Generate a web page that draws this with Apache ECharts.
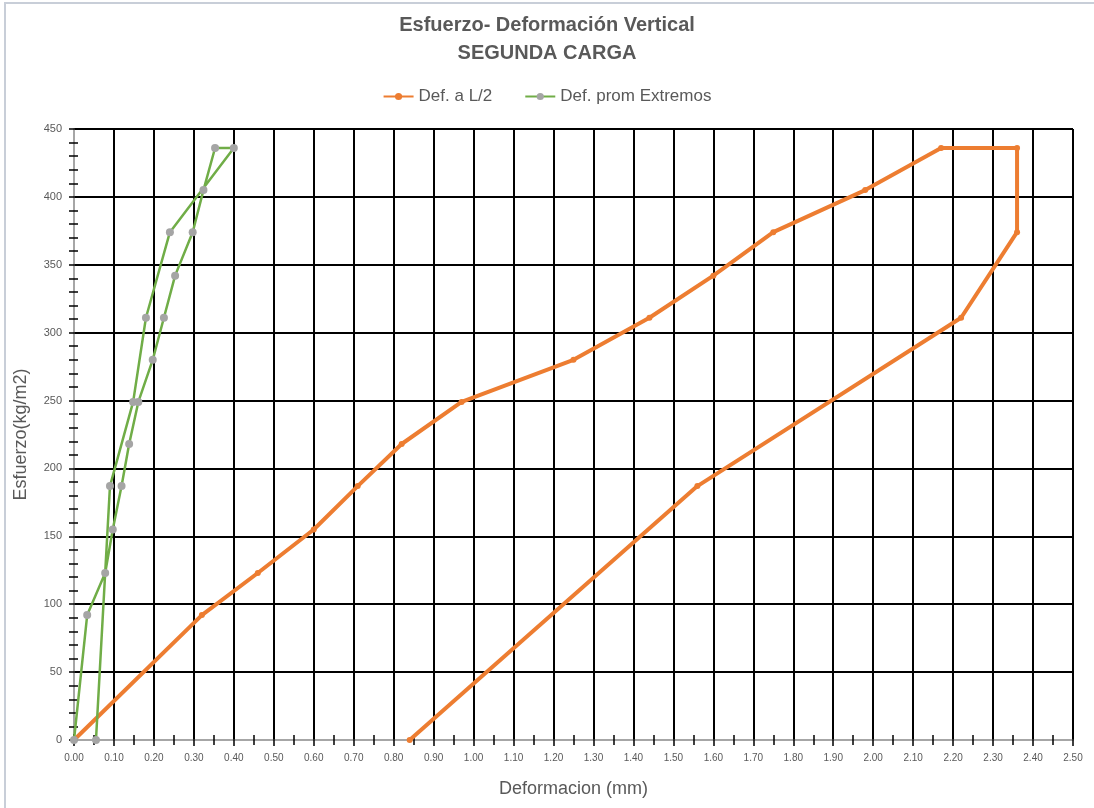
<!DOCTYPE html>
<html>
<head>
<meta charset="utf-8">
<script src="https://cdn.jsdelivr.net/npm/echarts@6/dist/echarts.min.js"></script>
<style>
  html, body { margin: 0; padding: 0; background: #ffffff; }
  #chart { width: 1094px; height: 808px; }
</style>
</head>
<body>
<div id="chart"></div>
<script>
// Stress steps (kg/m2) and deflections (mm) for the second load cycle
const midDef    = [0, 0.32, 0.46, 0.60, 0.71, 0.82, 0.97, 1.25, 1.44, 1.60, 1.75, 1.98, 2.17, 2.36, 2.36, 2.22, 1.56, 0.84];
const midStress = [0, 92, 123, 155, 187, 218, 249, 280, 311, 342, 374, 405, 436, 436, 374, 311, 187, 0];

const endDef    = [0, 0.033, 0.078, 0.097, 0.119, 0.138, 0.161, 0.197, 0.225, 0.253, 0.297, 0.324, 0.353, 0.40, 0.24, 0.18, 0.148, 0.090, 0.055];
const endStress = [0, 92, 123, 155, 187, 218, 249, 280, 311, 342, 374, 405, 436, 436, 374, 311, 249, 187, 0];

const seriesNames = ['Def. a L/2', 'Def. prom Extremos'];
const titleLines = ['Esfuerzo- Deformación Vertical', 'SEGUNDA CARGA'];
const xTitle = 'Deformacion (mm)';
const yTitle = 'Esfuerzo(kg/m2)';

const pairs = (xs, ys) => xs.map((x, i) => [x, ys[i]]);

const textGrey = '#595959';
const axisGrey = '#a6a6a6';
const font = 'Liberation Sans, Arial, sans-serif';
const narrowFont = 'Liberation Sans Narrow, Liberation Sans, Arial, sans-serif';

const chart = echarts.init(document.getElementById('chart'), null, { renderer: 'canvas' });

// Shared axis ranges; a second copy of each axis carries inward ticks so ticks cross the axis line
const xBase = { type: 'value', min: 0, max: 2.5, interval: 0.1, position: 'bottom' };
const yBase = { type: 'value', min: 0, max: 450, interval: 50, position: 'left' };
const tickLine = { color: '#000', width: 1.5 };

chart.setOption({
  backgroundColor: '#ffffff',
  animation: false,
  graphic: [{
    type: 'rect',
    shape: { x: 5, y: 3, width: 1200, height: 900 },
    style: { fill: 'none', stroke: '#c8ced8', lineWidth: 2 },
    silent: true
  }],
  title: {
    text: titleLines.join('\n'),
    left: 'center',
    top: 6,
    textStyle: {
      fontFamily: font,
      fontSize: 20,
      fontWeight: 'bold',
      color: textGrey,
      lineHeight: 28
    }
  },
  legend: {
    top: 83,
    left: 'center',
    itemWidth: 30,
    itemHeight: 9,
    itemGap: 32,
    textStyle: { fontFamily: font, fontSize: 17, color: textGrey },
    data: seriesNames
  },
  grid: { left: 74, right: 21, top: 129, bottom: 68, containLabel: false },
  xAxis: [
    Object.assign({}, xBase, {
      name: xTitle,
      nameLocation: 'middle',
      nameGap: 40,
      nameTextStyle: { fontFamily: font, fontSize: 18, color: textGrey },
      axisLine: { show: true, onZero: false, lineStyle: { color: axisGrey, width: 2 } },
      axisTick: { show: true, inside: false, length: 6, lineStyle: tickLine },
      minorTick: { show: true, splitNumber: 2, length: 5, lineStyle: tickLine },
      axisLabel: {
        margin: 13,
        fontFamily: narrowFont,
        fontSize: 10,
        color: textGrey,
        formatter: v => v.toFixed(2)
      },
      splitLine: { show: true, lineStyle: { color: '#000', width: 2 } }
    }),
    Object.assign({}, xBase, {
      axisLine: { show: false, onZero: false },
      axisTick: { show: true, inside: true, length: 6, lineStyle: tickLine },
      minorTick: { show: true, splitNumber: 2, length: 5, lineStyle: tickLine },
      axisLabel: { show: false },
      splitLine: { show: false }
    })
  ],
  yAxis: [
    Object.assign({}, yBase, {
      name: yTitle,
      nameLocation: 'middle',
      nameGap: 44,
      nameRotate: 90,
      nameTextStyle: { fontFamily: font, fontSize: 18, color: textGrey },
      axisLine: { show: true, onZero: false, lineStyle: { color: axisGrey, width: 2 } },
      axisTick: { show: true, inside: false, length: 5, lineStyle: tickLine },
      minorTick: { show: true, splitNumber: 5, length: 5, lineStyle: tickLine },
      axisLabel: {
        margin: 12,
        fontFamily: narrowFont,
        fontSize: 11,
        color: textGrey
      },
      splitLine: { show: true, lineStyle: { color: '#000', width: 2 } }
    }),
    Object.assign({}, yBase, {
      axisLine: { show: false, onZero: false },
      axisTick: { show: true, inside: true, length: 4, lineStyle: tickLine },
      minorTick: { show: true, splitNumber: 5, length: 4, lineStyle: tickLine },
      axisLabel: { show: false },
      splitLine: { show: false }
    })
  ],
  series: [
    {
      name: seriesNames[0],
      type: 'line',
      xAxisIndex: 0,
      yAxisIndex: 0,
      data: pairs(midDef, midStress),
      symbol: 'circle',
      symbolSize: 6,
      lineStyle: { color: '#ed7d31', width: 4 },
      itemStyle: { color: '#ed7d31', borderWidth: 0 },
      z: 3
    },
    {
      name: seriesNames[1],
      type: 'line',
      xAxisIndex: 0,
      yAxisIndex: 0,
      data: pairs(endDef, endStress),
      symbol: 'circle',
      symbolSize: 8,
      lineStyle: { color: '#70ad47', width: 2.5 },
      itemStyle: { color: '#a5a5a5', borderWidth: 0 },
      z: 4
    }
  ]
});
</script>
</body>
</html>
